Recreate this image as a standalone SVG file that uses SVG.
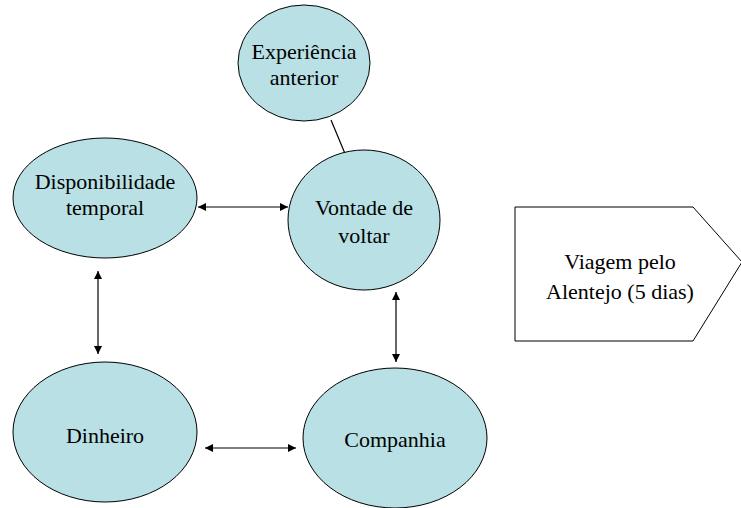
<svg xmlns="http://www.w3.org/2000/svg" width="741" height="508" viewBox="0 0 741 508">
<defs>
<style>
.n{fill:#b9e0e4;stroke:#000;stroke-width:1}
.t{font-family:'Liberation Serif','Times New Roman',serif;font-size:22px;fill:#000;text-anchor:middle}
.c{stroke:#000;stroke-width:1.2;fill:none}
</style>
<marker id="ah" viewBox="0 0 10 10" refX="10" refY="5" markerWidth="8" markerHeight="8" markerUnits="userSpaceOnUse" orient="auto-start-reverse">
<path d="M0,0 L10,5 L0,10 z" fill="#000"/>
</marker>
</defs>
<rect width="741" height="508" fill="#fff"/>
<g id="connectors">
<line class="c" x1="331" y1="120" x2="346" y2="156"/>
<line class="c" x1="198" y1="207" x2="288" y2="207" marker-start="url(#ah)" marker-end="url(#ah)"/>
<line class="c" x1="98" y1="271" x2="98" y2="354" marker-start="url(#ah)" marker-end="url(#ah)"/>
<line class="c" x1="396" y1="292" x2="396" y2="362" marker-start="url(#ah)" marker-end="url(#ah)"/>
<line class="c" x1="205" y1="448" x2="296" y2="448" marker-start="url(#ah)" marker-end="url(#ah)"/>
</g>
<g id="experiencia">
<ellipse class="n" cx="304" cy="63" rx="66" ry="58"/>
<text class="t" x="304" y="59">Experiência</text>
<text class="t" x="304" y="85">anterior</text>
</g>
<g id="disponibilidade">
<ellipse class="n" cx="105" cy="198" rx="92" ry="60"/>
<text class="t" x="105" y="189">Disponibilidade</text>
<text class="t" x="105" y="215">temporal</text>
</g>
<g id="vontade">
<ellipse class="n" cx="364" cy="220" rx="76" ry="70"/>
<text class="t" x="364" y="215">Vontade de</text>
<text class="t" x="364" y="243">voltar</text>
</g>
<g id="dinheiro">
<ellipse class="n" cx="105" cy="432" rx="92" ry="70"/>
<text class="t" x="105" y="443">Dinheiro</text>
</g>
<g id="companhia">
<ellipse class="n" cx="395" cy="438" rx="92" ry="70"/>
<text class="t" x="395" y="447">Companhia</text>
</g>
<g id="viagem">
<polygon points="515,207 693,207 742,262 693,341 515,341" fill="#fff" stroke="#000" stroke-width="1"/>
<text class="t" x="620" y="269">Viagem pelo</text>
<text class="t" x="620" y="299">Alentejo (5 dias)</text>
</g>
</svg>
